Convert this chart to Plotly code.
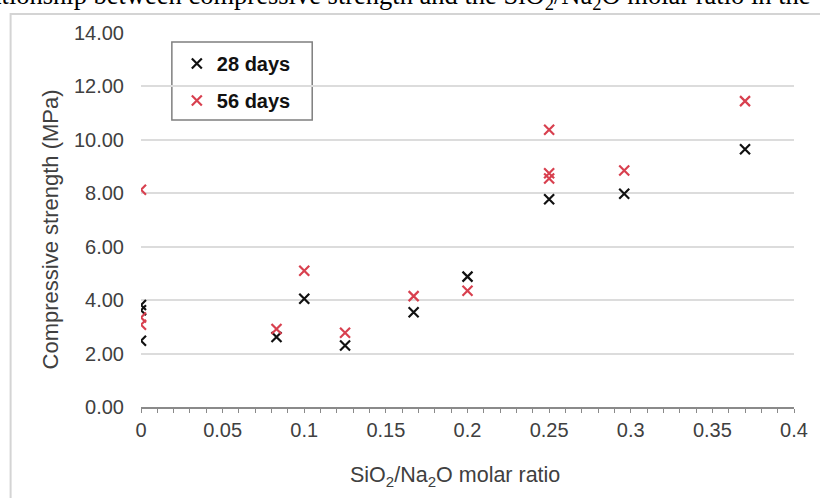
import plotly.graph_objects as go

# ---- data ----
x_28 = [0, 0, 0, 0.083, 0.1, 0.125, 0.167, 0.2, 0.25, 0.296, 0.37]
y_28 = [3.82, 3.62, 2.48, 2.62, 4.05, 2.30, 3.55, 4.88, 7.78, 7.98, 9.65]
x_56 = [0, 0, 0, 0.083, 0.1, 0.125, 0.167, 0.2, 0.25, 0.25, 0.25, 0.296, 0.37]
y_56 = [8.13, 3.35, 3.08, 2.92, 5.10, 2.78, 4.15, 4.35, 10.38, 8.75, 8.55, 8.85, 11.45]
series_names = ["28 days", "56 days"]
x_label = "SiO<sub>2</sub>/Na<sub>2</sub>O molar ratio"
y_label = "Compressive strength (MPa)"
caption = "Relationship between compressive strength and the SiO<sub>2</sub>/Na<sub>2</sub>O molar ratio in the"

W, H = 820, 498
L, R, T, B = 141, 23, 33, 91
PW, PH = W - L - R, H - T - B

def px(xp):
    return (xp - L) / PW

def py(yp):
    return (H - B - yp) / PH

FONT = "Liberation Sans, Arial, sans-serif"

fig = go.Figure()
fig.add_trace(go.Scatter(
    x=x_28, y=y_28, mode="markers", name=series_names[0], legendgroup="a",
    marker=dict(symbol="x-thin", size=10, line=dict(width=2.2, color="#111111"), color="#111111"),
))
fig.add_trace(go.Scatter(
    x=x_56, y=y_56, mode="markers", name=series_names[1], legendgroup="b",
    marker=dict(symbol="x-thin", size=10, line=dict(width=2.2, color="#d8404f"), color="#d8404f"),
))

fig.update_layout(
    width=W, height=H,
    margin=dict(l=L, r=R, t=T, b=B),
    paper_bgcolor="white", plot_bgcolor="white",
    font=dict(family=FONT, color="#404040", size=19),
    showlegend=True,
    legend=dict(
        x=px(177), y=py(44), xanchor="left", yanchor="top",
        borderwidth=0, bgcolor="rgba(0,0,0,0)",
        font=dict(family=FONT, size=20, color="#111111", weight="bold"),
        tracegroupgap=8, traceorder="grouped",
    ),
    xaxis=dict(
        range=[0, 0.4], dtick=0.05, tick0=0, showgrid=False, zeroline=False,
        showline=True, linecolor="#8a8a8a", linewidth=1.5,
        ticks="outside", ticklen=4, tickcolor="#8a8a8a", tickwidth=1.2,
        minor=dict(dtick=0.01, ticks="outside", ticklen=4, tickcolor="#8a8a8a", tickwidth=1.2, showgrid=False),
        tickfont=dict(size=20, color="#404040"), ticklabelstandoff=0,
    ),
    yaxis=dict(
        range=[0, 14], dtick=2, tick0=0, tickformat=".2f",
        showgrid=True, gridcolor="#dcdcdc", gridwidth=2, zeroline=False, showline=False,
        ticks="", tickfont=dict(size=20, color="#404040"), ticklabelstandoff=16,
    ),
    annotations=[
        dict(text=x_label, xref="paper", yref="paper", x=px(456), y=py(476),
             xanchor="center", yanchor="middle", showarrow=False,
             font=dict(family=FONT, size=21.5, color="#404040")),
        dict(text=y_label, xref="paper", yref="paper", x=px(50), y=py(229),
             xanchor="center", yanchor="middle", showarrow=False, textangle=-90,
             font=dict(family=FONT, size=22, color="#404040")),
        dict(text=caption, xref="paper", yref="paper", x=px(-50), y=py(16),
             xanchor="left", yanchor="bottom", showarrow=False,
             font=dict(family="Liberation Serif, Times New Roman, serif", size=26.5, color="#000000")),
    ],
    shapes=[
        dict(type="rect", xref="paper", yref="paper", x0=px(10), x1=px(840), y0=py(14), y1=py(520),
             line=dict(color="#d4d4d4", width=2), fillcolor="rgba(0,0,0,0)", layer="below"),
        dict(type="rect", xref="paper", yref="paper", x0=px(172), x1=px(313), y0=py(42), y1=py(120),
             line=dict(color="#7f7f7f", width=1.5), fillcolor="white", layer="below"),
    ],
)

fig.write_html("out.html")
